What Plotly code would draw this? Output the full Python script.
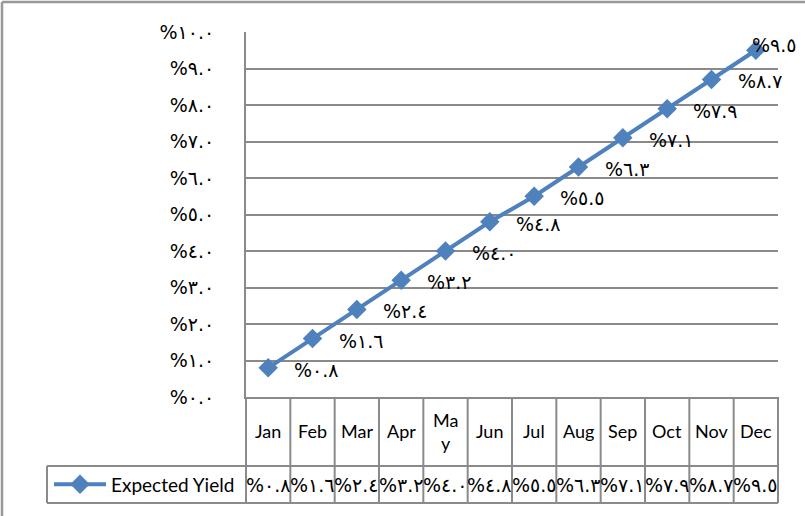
import plotly.graph_objects as go

months = ["Jan", "Feb", "Mar", "Apr", "May", "Jun", "Jul", "Aug", "Sep", "Oct", "Nov", "Dec"]
month_labels = ["Jan", "Feb", "Mar", "Apr", "Ma<br>y", "Jun", "Jul", "Aug", "Sep", "Oct", "Nov", "Dec"]
expected_yield = [0.8, 1.6, 2.4, 3.2, 4.0, 4.8, 5.5, 6.3, 7.1, 7.9, 8.7, 9.5]
y_ticks = [0, 1, 2, 3, 4, 5, 6, 7, 8, 9, 10]
series_name = "Expected Yield"

AR = str.maketrans("0123456789", "٠١٢٣٤٥٦٧٨٩")


def ar_pct(v):
    return "%" + f"{v:.1f}".translate(AR)


W, H = 805, 516
L, R, T, B = 246, 778, 32, 397  # plot area pixel box
PW, PH = R - L, B - T
HEADER_BOTTOM = 466
TABLE_BOTTOM = 503
LEGEND_LEFT = 47


def px_x(px):
    return (px - L) / PW


def px_y(py):
    return (B - py) / PH


FONT = "Lato, 'DejaVu Sans', sans-serif"
AFONT = "'DejaVu Sans', sans-serif"
GRID = "#8a8a8a"
BLUE = "#4F81BD"
FS = 18
AFS = 19

fig = go.Figure()
fig.add_trace(go.Scatter(
    x=months, y=expected_yield, mode="lines+markers", name=series_name,
    line=dict(color=BLUE, width=4),
    marker=dict(symbol="diamond", size=15, color=BLUE),
    showlegend=True, cliponaxis=False,
))

annotations = []
for i, (m, v) in enumerate(zip(months, expected_yield)):
    last = i == len(months) - 1
    annotations.append(dict(
        x=m, y=v, xref="x", yref="y", text=ar_pct(v), showarrow=False,
        xanchor="left", yanchor="middle",
        xshift=-6 if last else 24, yshift=5 if last else -2,
        font=dict(family=AFONT, size=AFS, color="black"),
    ))
    # header row
    annotations.append(dict(
        x=m, y=px_y((B + HEADER_BOTTOM) / 2), xref="x", yref="paper",
        text=month_labels[i], showarrow=False, xanchor="center", yanchor="middle",
        font=dict(family=FONT, size=FS, color="black"),
    ))
    # values row
    annotations.append(dict(
        x=m, y=px_y((HEADER_BOTTOM + TABLE_BOTTOM) / 2), xref="x", yref="paper",
        text=ar_pct(v), showarrow=False, xanchor="center", yanchor="middle",
        font=dict(family=AFONT, size=AFS, color="black"),
    ))

shapes = []
line_style = dict(color=GRID, width=2)
# vertical lines of the data table
for i in range(len(months) + 1):
    shapes.append(dict(type="line", xref="paper", yref="paper",
                       x0=i / len(months), x1=i / len(months),
                       y0=px_y(B), y1=px_y(TABLE_BOTTOM), line=line_style))
# horizontal lines of the data table
shapes.append(dict(type="line", xref="paper", yref="paper", x0=px_x(LEGEND_LEFT), x1=1,
                   y0=px_y(HEADER_BOTTOM), y1=px_y(HEADER_BOTTOM), line=line_style))
shapes.append(dict(type="line", xref="paper", yref="paper", x0=px_x(LEGEND_LEFT), x1=1,
                   y0=px_y(TABLE_BOTTOM), y1=px_y(TABLE_BOTTOM), line=line_style))
shapes.append(dict(type="line", xref="paper", yref="paper", x0=px_x(LEGEND_LEFT), x1=px_x(LEGEND_LEFT),
                   y0=px_y(HEADER_BOTTOM), y1=px_y(TABLE_BOTTOM), line=line_style))
# outer chart border (top and left)
shapes.append(dict(type="line", xref="paper", yref="paper", x0=px_x(2), x1=px_x(W + 5),
                   y0=px_y(2), y1=px_y(2), line=dict(color="#999999", width=2.5)))
shapes.append(dict(type="line", xref="paper", yref="paper", x0=px_x(2), x1=px_x(2),
                   y0=px_y(2), y1=px_y(H + 5), line=dict(color="#999999", width=2.5)))

fig.update_layout(
    width=W, height=H,
    margin=dict(l=L, r=W - R, t=T, b=H - B, autoexpand=False),
    paper_bgcolor="white", plot_bgcolor="white",
    font=dict(family=FONT, size=FS, color="black"),
    showlegend=True,
    legend=dict(
        xref="container", yref="container",
        x=(LEGEND_LEFT + 2) / W, y=1 - (HEADER_BOTTOM + TABLE_BOTTOM) / 2 / H,
        xanchor="left", yanchor="middle",
        itemwidth=52, font=dict(family=FONT, size=19, color="black"),
        bgcolor="rgba(0,0,0,0)", borderwidth=0,
    ),
    xaxis=dict(
        range=[-0.5, 11.5], showticklabels=False, ticks="", showgrid=False,
        showline=True, linecolor=GRID, linewidth=2, zeroline=False, fixedrange=True,
    ),
    yaxis=dict(
        range=[0, 10], tickvals=y_ticks, ticktext=[ar_pct(v) for v in y_ticks],
        ticks="", ticklabelstandoff=26, showgrid=True, gridcolor=GRID, gridwidth=1.5,
        showline=True, linecolor=GRID, linewidth=2, zeroline=False,
        tickfont=dict(family=AFONT, size=AFS, color="black"),
    ),
    annotations=annotations, shapes=shapes,
)

fig.write_html(
    "out.html",
    config={"displayModeBar": False},
    post_script="document.body.style.margin='0';document.body.style.overflow='hidden';",
)
